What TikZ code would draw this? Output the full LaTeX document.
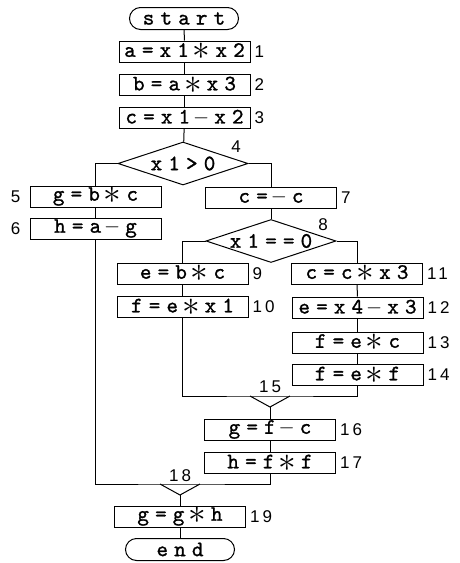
\documentclass[tikz,border=0pt]{standalone}
\usepackage{fontspec}
\usetikzlibrary{positioning,calc,shapes.geometric,shapes.misc}
\newfontfamily\flowtt{lmmono10-regular.otf}[LetterSpace=28,FakeBold=1.2]
\newfontfamily\numsf{Liberation Sans}[LetterSpace=18]
\newcommand{\mul}{\hspace{4pt}\raisebox{-3pt}{\scalebox{1.7}{$\ast$}}\hspace{5pt}}
\newcommand{\mns}{\hspace{3pt}{$-$}\hspace{5pt}}
\tikzset{
 stmt/.style={draw, line width=1pt, minimum width=131pt, minimum height=21pt, inner sep=0pt, font=\fontsize{22}{22}\flowtt},
 cond/.style={draw, line width=1pt, diamond, aspect=3, minimum width=130pt, minimum height=43pt, inner sep=0pt, font=\fontsize{22}{22}\flowtt},
 term/.style={draw, line width=1pt, rounded rectangle, minimum width=109pt, minimum height=22pt, inner sep=0pt, font=\fontsize{22}{22}\flowtt},
 num/.style={inner sep=0pt, font=\fontsize{17}{18}\numsf},
 flow/.style={line width=1pt}
}
\begin{document}
\begin{tikzpicture}[x=1pt,y=-1pt]
\useasboundingbox (0,0) rectangle (459,563);
% main column
\node[term] (start) at (184,18.5) {start};
\node[stmt] (b1) at (184.5,51.5) {a=x1\mul x2};
\node[stmt] (b2) at (184.5,85) {b=a\mul x3};
\node[stmt] (b3) at (184.5,117.5) {c=x1\mns x2};
\node[cond] (d4) at (183,163.5) {x1>0};
% left branch
\node[stmt] (b5) at (95.5,196.5) {g=b\mul c};
\node[stmt] (b6) at (95.5,228.5) {h=a\mns g};
% right branch
\node[stmt] (b7) at (271,197.5) {c=\mns c};
\node[cond] (d8) at (271,241) {x1==0};
\node[stmt] (b9) at (182.5,273.5) {e=b\mul c};
\node[stmt] (b10) at (182.5,307) {f=e\mul x1};
\node[stmt] (b11) at (357,273.5) {c=c\mul x3};
\node[stmt] (b12) at (357.5,307.5) {e=x4\mns x3};
\node[stmt] (b13) at (357.5,342.5) {f=e\mul c};
\node[stmt] (b14) at (357.5,375) {f=e\mul f};
\coordinate (j15) at (270,396);
\coordinate (m15) at (270,407);
\node[stmt] (b16) at (270,429.5) {g=f\mns c};
\node[stmt] (b17) at (270,463) {h=f\mul f};
\coordinate (j18) at (180,484);
\coordinate (m18) at (180,495);
\node[stmt] (b19) at (180,516.5) {g=g\mul h};
\node[term] (end) at (180,549.5) {end};
% numbers
\node[num, right=4pt of b1] {1};
\node[num, right=4pt of b2] {2};
\node[num, right=4pt of b3] {3};
\node[num] at (236,147) {4};
\node[num, left=9pt of b5] {5};
\node[num, left=9pt of b6] {6};
\node[num, right=4pt of b7] {7};
\node[num] at (323,225) {8};
\node[num, right=4pt of b9] {9};
\node[num, right=4pt of b10] {10};
\node[num, right=4pt of b11] {11};
\node[num, right=4pt of b12] {12};
\node[num, right=4pt of b13] {13};
\node[num, right=4pt of b14] {14};
\node[num, above=3pt of j15] {15};
\node[num, right=4pt of b16] {16};
\node[num, right=4pt of b17] {17};
\node[num, above=2pt of j18] {18};
\node[num, right=4pt of b19] {19};
% connectors
\draw[flow] (start) -- (b1);
\draw[flow] (b1) -- (b2);
\draw[flow] (b2) -- (b3);
\draw[flow] (b3) -- (d4);
\draw[flow] (d4.west) -| (b5.north);
\draw[flow] (b5) -- (b6);
\draw[flow] (d4.east) -| (b7.north);
\draw[flow] (b7) -- (d8);
\draw[flow] (d8.west) -| (b9.north);
\draw[flow] (d8.east) -| (b11.north);
\draw[flow] (b9) -- (b10);
\draw[flow] (b11) -- (b12);
\draw[flow] (b12) -- (b13);
\draw[flow] (b13) -- (b14);
\draw[flow] (b10.south) |- (j15) -| (b14.south);
\draw[flow] ($(j15)+(-20,0)$) -- (m15) -- ($(j15)+(20,0)$);
\draw[flow] (m15) -- (b16);
\draw[flow] (b16) -- (b17);
\draw[flow] (b6.south) |- (j18) -| (b17.south);
\draw[flow] ($(j18)+(-20,0)$) -- (m18) -- ($(j18)+(20,0)$);
\draw[flow] (m18) -- (b19);
\draw[flow] (b19) -- (end);
\end{tikzpicture}
\end{document}
